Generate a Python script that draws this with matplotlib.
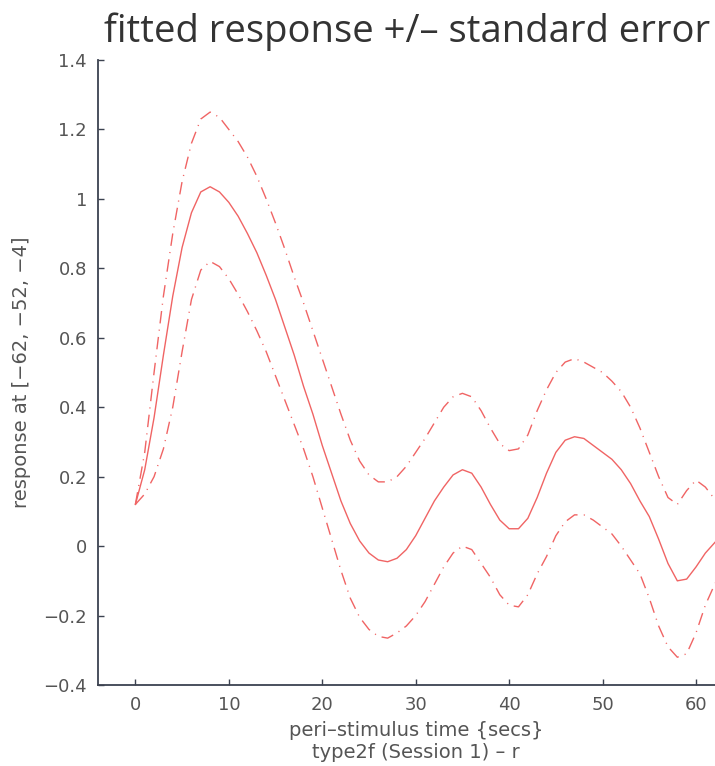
import numpy as np
import matplotlib
matplotlib.use("Agg")
import matplotlib.pyplot as plt

# peri-stimulus time (secs) and values
pst = list(range(0, 65))

fitted = [0.12, 0.22, 0.37, 0.55, 0.72, 0.86, 0.96, 1.02, 1.035, 1.02,
          0.99, 0.95, 0.90, 0.845, 0.78, 0.71, 0.63, 0.55, 0.46, 0.38,
          0.29, 0.21, 0.13, 0.065, 0.015, -0.02, -0.04, -0.045, -0.035, -0.01,
          0.03, 0.08, 0.13, 0.17, 0.205, 0.22, 0.21, 0.17, 0.12, 0.075,
          0.05, 0.05, 0.08, 0.14, 0.21, 0.27, 0.305, 0.315, 0.31, 0.29,
          0.27, 0.25, 0.22, 0.18, 0.13, 0.085, 0.02, -0.05, -0.10, -0.095,
          -0.06, -0.02, 0.01, 0.04, 0.06]

upper = [0.12, 0.27, 0.50, 0.72, 0.90, 1.05, 1.16, 1.23, 1.25, 1.235,
         1.20, 1.165, 1.12, 1.065, 1.00, 0.93, 0.855, 0.775, 0.70, 0.62,
         0.54, 0.46, 0.38, 0.305, 0.245, 0.205, 0.185, 0.185, 0.20, 0.23,
         0.27, 0.31, 0.355, 0.40, 0.43, 0.44, 0.43, 0.39, 0.34, 0.295,
         0.275, 0.28, 0.32, 0.39, 0.45, 0.50, 0.53, 0.54, 0.53, 0.515,
         0.50, 0.475, 0.445, 0.40, 0.34, 0.27, 0.20, 0.14, 0.12, 0.16,
         0.19, 0.17, 0.135, 0.12, 0.13]

lower = [0.12, 0.15, 0.20, 0.28, 0.40, 0.56, 0.71, 0.795, 0.82, 0.805,
         0.77, 0.725, 0.675, 0.62, 0.56, 0.49, 0.42, 0.35, 0.28, 0.20,
         0.11, 0.02, -0.07, -0.15, -0.205, -0.24, -0.26, -0.265, -0.25, -0.23,
         -0.20, -0.16, -0.11, -0.06, -0.02, 0.0, -0.01, -0.05, -0.09, -0.14,
         -0.17, -0.175, -0.14, -0.08, -0.03, 0.03, 0.07, 0.09, 0.09, 0.075,
         0.055, 0.035, 0.0, -0.04, -0.08, -0.15, -0.23, -0.29, -0.32, -0.31,
         -0.25, -0.17, -0.11, -0.06, -0.03]

x_ticks = [0, 10, 20, 30, 40, 50, 60]
y_ticks = [-0.4, -0.2, 0, 0.2, 0.4, 0.6, 0.8, 1, 1.2, 1.4]
y_tick_labels = ['\u22120.4', '\u22120.2', '0', '0.2', '0.4', '0.6', '0.8', '1', '1.2', '1.4']

red = '#f06464'
axis_col = '#3c4250'
text_col = '#555555'

W, H = 715, 766
fig = plt.figure(figsize=(W / 100, H / 100), dpi=100)
fig.patch.set_facecolor('white')

# axes runs a little past the right edge, like the cropped original
left, bottom, right, top = 98, 685, 720, 60
ax = fig.add_axes([left / W, 1 - bottom / H, (right - left) / W, (bottom - top) / H])

dashdot = (0, (9, 4.5, 0.8, 4.5))
ax.plot(pst, fitted, color=red, lw=1.0)
ax.plot(pst, upper, color=red, lw=1.0, ls=dashdot)
ax.plot(pst, lower, color=red, lw=1.0, ls=dashdot)

ax.set_xlim(-4, (right - 135) / 9.35)
ax.set_ylim(-0.4, 1.4)
ax.set_xticks(x_ticks)
ax.set_yticks(y_ticks)
ax.set_yticklabels(y_tick_labels)

for s in ['top', 'right']:
    ax.spines[s].set_visible(False)
for s in ['left', 'bottom']:
    ax.spines[s].set_color(axis_col)
    ax.spines[s].set_linewidth(1.3)
ax.tick_params(direction='in', length=4, width=1, colors=axis_col,
               labelcolor=text_col, labelsize=13, pad=8)

fig.text(407 / W, 1 - 42 / H, 'fitted response +/\u2013 standard error',
         ha='center', va='baseline', fontsize=27.5, color='#333333',
         family='Open Sans')
fig.text(416 / W, 1 - 731 / H, 'peri\u2013stimulus time {secs}',
         ha='center', va='center', fontsize=14, color=text_col)
fig.text(416 / W, 1 - 753 / H, 'type2f (Session 1) \u2013 r',
         ha='center', va='center', fontsize=14, color=text_col)
fig.text(22 / W, 1 - 372 / H, 'response at [\u221262, \u221252, \u22124]',
         ha='center', va='center', rotation=90, fontsize=14, color=text_col)

fig.savefig('out.png', dpi=100)
